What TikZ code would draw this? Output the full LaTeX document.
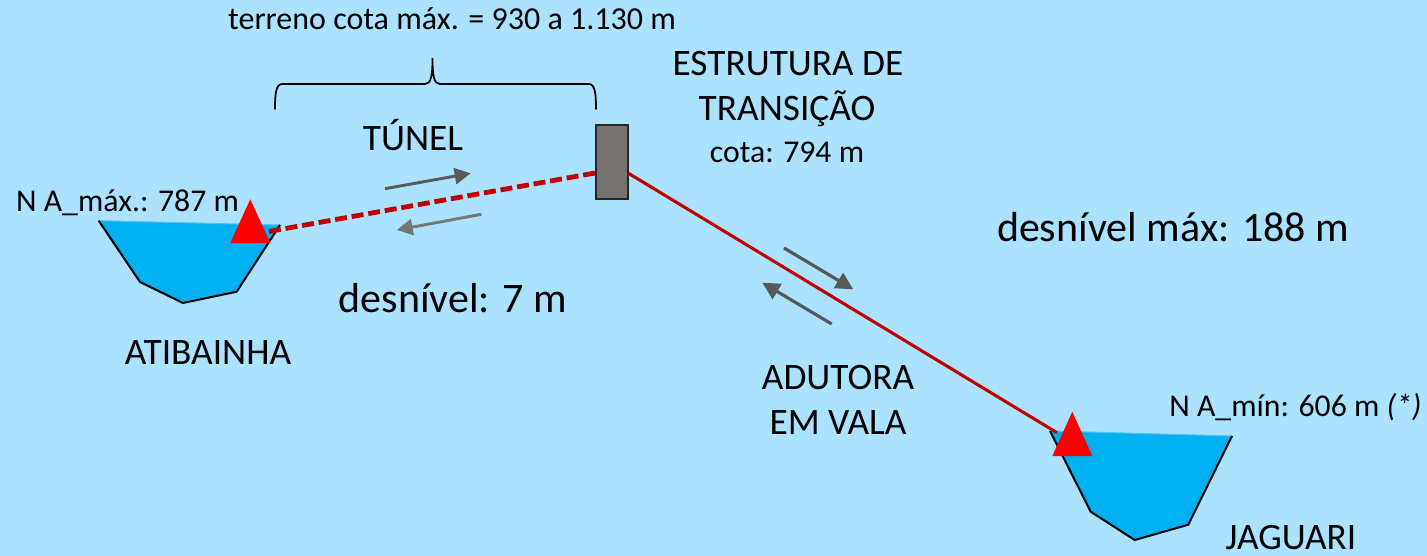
\documentclass[tikz,border=0pt]{standalone}
\usepackage{fontspec}
\setmainfont{Carlito}
\usetikzlibrary{arrows.meta}
\definecolor{bgc}{HTML}{ABE2FF}
\definecolor{water}{HTML}{00B0F0}
\definecolor{waterline}{HTML}{4FC3F2}
\definecolor{pipe}{HTML}{C00000}
\definecolor{boxc}{HTML}{767171}
\definecolor{arrd}{HTML}{595959}
\definecolor{arrl}{HTML}{767676}
\tikzset{
  x=0.75pt,y=-0.75pt,
  lbl/.style={anchor=base,inner sep=0,text=black,font=\fontsize{28}{28}\selectfont},
  lblb/.style={lbl,font=\fontsize{31.5}{31.5}\selectfont},
  lbls/.style={lbl,font=\fontsize{23.8}{23.8}\selectfont},
  lblm/.style={lbl,font=\fontsize{24}{24}\selectfont},
  bank/.style={draw=black,line width=1.5pt,line join=round},
  surf/.style={fill=water,draw=none},
  marker/.style={fill=red,draw=none},
  flowd/.style={draw=arrd,line width=2.2pt,-{Triangle[length=12pt,width=12pt]}},
  flowa/.style={draw=arrd,line width=2.4pt,-{Triangle[length=13pt,width=13pt]}},
  flowl/.style={draw=arrl,line width=2.2pt,-{Triangle[length=12pt,width=12pt]}},
  pipeline/.style={draw=pipe,line width=2.3pt},
  pipedash/.style={draw=pipe,line width=3.6pt,dash pattern=on 9pt off 3.6pt},
  bracel/.style={draw=black,line width=1.3pt,line cap=round},
}
\begin{document}
\begin{tikzpicture}
\useasboundingbox (0,0) rectangle (1427,556);
\fill[bgc] (0,0) rectangle (1427,556);
% reservoirs
\fill[surf] (98.7,220.7) -- (140,282) -- (183,303) -- (236.7,291.7) -- (280,225) -- cycle;
\draw[waterline,line width=0.8pt] (98.7,220.7) -- (280,225);
\draw[bank] (98.7,220.7) -- (140,282) -- (183,303) -- (236.7,291.7) -- (280,225);
\fill[surf] (1050,431) -- (1090.7,511.7) -- (1134.7,540) -- (1188.3,524.7) -- (1232,436) -- cycle;
\draw[waterline,line width=0.8pt] (1050,431) -- (1232,436);
\draw[bank] (1050,431) -- (1090.7,511.7) -- (1134.7,540) -- (1188.3,524.7) -- (1232,436);
% transition box
\node[draw=black!85,line width=1.3pt,fill=boxc,minimum width=24pt,minimum height=55.5pt,inner sep=0,outer sep=0] (est) at (612,162) {};
\coordinate (tunelA) at (266,232);
\coordinate (tunelB) at (595,173);
\coordinate (adutA) at (628,173);
\coordinate (adutB) at (1057,432.7);
\draw[pipedash] (tunelB) -- (tunelA);
\draw[pipeline] (adutA) -- (adutB);
% markers
\fill[marker] (250.3,199.3) -- (230.3,243) -- (270.3,243) -- cycle;
\fill[marker] (1072.3,411.7) -- (1052.3,456) -- (1092.3,456) -- cycle;
% flow arrows
\coordinate (f1a) at (385,188.7); \coordinate (f1b) at (470.7,173.3);
\coordinate (f2a) at (481.3,214.3); \coordinate (f2b) at (396.7,230);
\coordinate (f3a) at (784,248); \coordinate (f3b) at (853.3,289.3);
\coordinate (f4a) at (831.7,324); \coordinate (f4b) at (762.3,282.7);
\draw[flowd] (f1a) -- (f1b);
\draw[flowl] (f2a) -- (f2b);
\draw[flowa] (f3a) -- (f3b);
\draw[flowa] (f4a) -- (f4b);
% brace
\draw[bracel] (275,109) .. controls (275,96) and (275.5,84) .. (282,84) -- (425,84) .. controls (431,84) and (432.5,76) .. (432.5,58) .. controls (432.5,76) and (434,84) .. (440,84) -- (589,84) .. controls (595.5,84) and (596,96) .. (596,109);
% labels
\node[lblm] (t1) at (452,29.5) {terreno cota máx. = 930 a 1.130 m};
\node[lbl] (t2) at (788,76) {ESTRUTURA DE};
\node[lbl] (t3) at (787,121) {TRANSIÇÃO};
\node[lbls] (t4) at (787,162) {cota: 794 m};
\node[lbl] (t5) at (413,151) {TÚNEL};
\node[lbls] (t6) at (127.5,211) {N A\_máx.: 787 m};
\node[lblb] (t7) at (1173,241) {desnível máx: 188 m};
\node[lblb] (t8) at (453,312) {desnível: 7 m};
\node[lbl] (t9) at (208,364) {ATIBAINHA};
\node[lbl] (t10) at (838,389) {ADUTORA};
\node[lbl] (t11) at (838,434) {EM VALA};
\node[lbls] (t12) at (1295.5,416) {N A\_mín: 606 m {\itshape (*)}};
\node[lbl] (t13) at (1291,549) {JAGUARI};
\end{tikzpicture}
\end{document}
